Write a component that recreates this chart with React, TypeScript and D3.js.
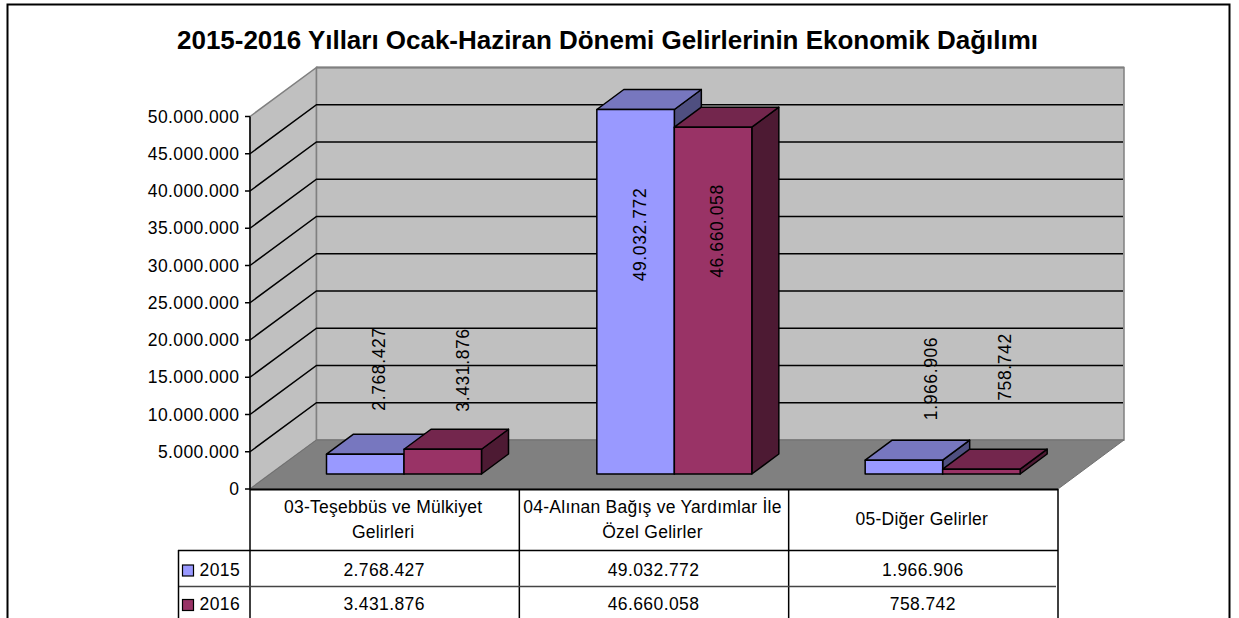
import React from "react";
import * as d3 from "d3";

const categories = ["03-Teşebbüs ve Mülkiyet|Gelirleri", "04-Alınan Bağış ve Yardımlar İle|Özel Gelirler", "05-Diğer Gelirler"];
const seriesNames = ["2015", "2016"];
const values2015 = [2768427, 49032772, 1966906];
const values2016 = [3431876, 46660058, 758742];
const ticks = [0, 5, 10, 15, 20, 25, 30, 35, 40, 45, 50].map((d) => d * 1000000);
const title = "2015-2016 Yılları Ocak-Haziran Dönemi Gelirlerinin Ekonomik Dağılımı";

const fmt = (v: number) => (v === 0 ? "0" : String(v).replace(/\B(?=(\d{3})+$)/g, "."));
const FONT = "'Liberation Sans', Arial, sans-serif";
const fills = [
  { front: "#9999FF", top: "#7777BF", side: "#4F4F80" },
  { front: "#993366", top: "#73264D", side: "#4D1A33" },
];
const y = d3.scaleLinear().domain([0, 50000000]).range([489, 116.5]);
const x = d3.scaleBand<number>().domain([0, 1, 2]).range([250, 1058]);
const DX = 66.5, DY = 49;
const poly = (p: number[][]) => p.map((q) => q.join(",")).join(" ");

export default function App() {
  const series = [values2015, values2016];
  const barW = 77.5;
  const groupNudge = [0, 1, 0];
  const labelX = [[379, 463], [640, 717], [931, 1005]];
  const labelY = [[369, 370], [234.5, 231], [378.5, 367]];
  return (
    <svg width={1239} height={618} style={{ position: "absolute", left: 0, top: 0, background: "#fff" }} fontFamily={FONT}>
      <rect x={7.5} y={4.5} width={1222} height={630} fill="#fff" stroke="#000" strokeWidth={2} />
      <text x={607.5} y={49} textAnchor="middle" fontSize={26} fontWeight="bold" textLength={861} lengthAdjust="spacing">{title}</text>
      {/* walls */}
      <polygon points={poly([[250, y(50000000)], [316.5, y(50000000) - DY], [316.5, y(0) - DY], [250, y(0)]])} fill="#C0C0C0" stroke="#808080" strokeWidth={1.5} />
      <rect x={316.5} y={y(50000000) - DY} width={807.5} height={372.5} fill="#C0C0C0" stroke="#808080" strokeWidth={1.5} />
      <polygon points={poly([[250, y(0)], [316.5, y(0) - DY], [1124, y(0) - DY], [1058, y(0)]])} fill="#808080" stroke="#707070" strokeWidth={1} />
      {/* grid */}
      {ticks.slice(1, -1).map((t) => (
        <polyline key={t} points={poly([[250, y(t)], [316.5, y(t) - DY], [1123, y(t) - DY]])} stroke="#000" strokeWidth={1.5} fill="none" />
      ))}
      <line x1={316.5} x2={1124} y1={y(50000000) - DY} y2={y(50000000) - DY} stroke="#808080" strokeWidth={2} />
      {/* bars */}
      {categories.map((_, i) =>
        series.map((vals, s) => {
          const dx = 27, dy = 20, base = 474;
          const x0 = (x(i) as number) + 76.5 + groupNudge[i] + s * barW;
          const x1 = x0 + barW;
          const top = base - (y(0) - y(vals[i])) + 0.8;
          const c = fills[s];
          return (
            <g key={`${i}-${s}`} stroke="#000" strokeWidth={1.5} strokeLinejoin="round">
              <polygon points={poly([[x1, top], [x1 + dx, top - dy], [x1 + dx, base - dy], [x1, base]])} fill={c.side} />
              <polygon points={poly([[x0, top], [x0 + dx, top - dy], [x1 + dx, top - dy], [x1, top]])} fill={c.top} />
              <rect x={x0} y={top} width={barW} height={base - top} fill={c.front} />
            </g>
          );
        })
      )}
      {/* axis */}
      <line x1={250} x2={250} y1={y(50000000)} y2={y(0)} stroke="#000" strokeWidth={1.5} />
      {ticks.map((t) => (
        <g key={t}>
          <line x1={245} x2={250} y1={y(t)} y2={y(t)} stroke="#000" strokeWidth={1.5} />
          <text x={239.4} y={y(t) + 6} textAnchor="end" fontSize={17.5} letterSpacing={0.4}>{fmt(t)}</text>
        </g>
      ))}
      {/* data labels */}
      {series.map((vals, s) =>
        vals.map((v, i) => (
          <text key={`${s}-${i}`} transform={`translate(${labelX[i][s] + 6},${labelY[i][s]}) rotate(-90)`} textAnchor="middle" fontSize={17.5} letterSpacing={0.6}>{fmt(v)}</text>
        ))
      )}
      {/* data table */}
      <g stroke="#000" strokeWidth={1.5}>
        <line x1={250} x2={1058} y1={489.5} y2={489.5} strokeWidth={2} />
        {[0, 1, 2, 3].map((k) => {
          const px = k < 3 ? (x(k) as number) : 1058;
          return <line key={k} x1={px} x2={px} y1={489} y2={618} />;
        })}
        <line x1={178} x2={1058} y1={550.5} y2={550.5} />
        <line x1={178} x2={1056} y1={586.5} y2={586.5} stroke="#444" />
        <line x1={178.5} x2={178.5} y1={550} y2={618} />
      </g>
      {categories.map((c, i) => {
        const cx = (x(i) as number) + x.bandwidth() / 2 - 1.5;
        const lines = c.split("|");
        return lines.length === 2 ? (
          <g key={c} fontSize={17.5} textAnchor="middle" letterSpacing={0.25}>
            <text x={cx} y={513}>{lines[0]}</text>
            <text x={cx} y={538}>{lines[1]}</text>
          </g>
        ) : (
          <text key={c} x={cx} y={525} fontSize={17.5} textAnchor="middle" letterSpacing={0.25}>{c}</text>
        );
      })}
      {series.map((vals, s) => {
        const ty = s === 0 ? 575.5 : 610;
        return (
          <g key={s}>
            <rect x={182.5} y={ty - 10.5} width={11} height={11} fill={fills[s].front} stroke="#000" strokeWidth={1.2} />
            <text x={199.5} y={ty} fontSize={17.5} letterSpacing={0.4}>{seriesNames[s]}</text>
            {vals.map((v, i) => (
              <text key={i} x={(x(i) as number) + x.bandwidth() / 2 - 0.5} y={ty} fontSize={17.5} letterSpacing={0.4} textAnchor="middle">{fmt(v)}</text>
            ))}
          </g>
        );
      })}
    </svg>
  );
}
